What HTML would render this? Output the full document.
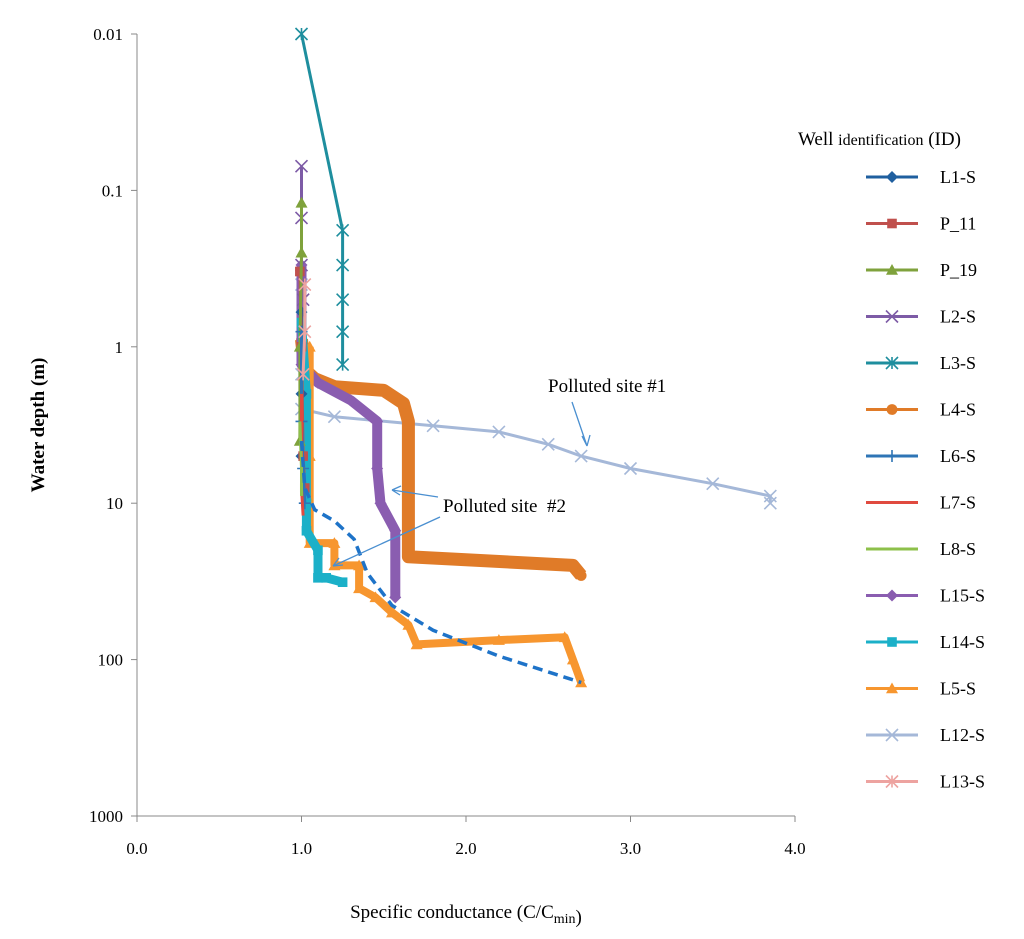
<!DOCTYPE html>
<html><head><meta charset="utf-8"><style>
body{margin:0;background:#fff}
svg{display:block;font-family:"Liberation Serif",serif}
</style></head><body>
<svg id="chart" width="1024" height="939" viewBox="0 0 1024 939">
<g id="plot"></g>
<g id="legend"></g>
<text x="548" y="392" font-size="19">Polluted site #1</text>
<text x="443" y="512" font-size="19" xml:space="preserve">Polluted site  #2</text>
<g stroke="#4a8fd0" stroke-width="1.3" fill="none">
<path d="M572 402 L587 446 M587 446 L582 436 M587 446 L590 435"/>
<path d="M438 497 L392 490 M392 490 L401 486 M392 490 L400 495"/>
<path d="M440 517 L333 566 M333 566 L339 558 M333 566 L343 565"/>
</g>
<text x="466" y="918" font-size="19" text-anchor="middle">Specific conductance (C/C<tspan font-size="14" dy="5">min</tspan>)</text>
<text transform="translate(44,425) rotate(-90)" font-size="19" font-weight="bold" text-anchor="middle">Water depth (m)</text>
<text x="798" y="145" font-size="19">Well <tspan font-size="16">identification</tspan> (ID)</text>
</svg>
<script>
const xTicks=[0,1,2,3,4];
const xTickLabels=["0.0","1.0","2.0","3.0","4.0"];
const yTicks=[0.01,0.1,1,10,100,1000];
const yTickLabels=["0.01","0.1","1","10","100","1000"];
const seriesNames=["L1-S","P_11","P_19","L2-S","L3-S","L4-S","L6-S","L7-S","L8-S","L15-S","L14-S","L5-S","L12-S","L13-S"];
const seriesColors=["#1f5f9f","#c0504d","#7fa23c","#7d5ba6","#1e8e9e","#e07b28","#2e75b6","#e04a3f","#8dc04a","#8a5db0","#1bb0c8","#f7962f","#a5b8d8","#eda3a0"];
const seriesMarkers=["diamond","square","triangle","x","star","circle","plus","none","none","diamond","square","triangle","x","star"];
const sL1=[[1.0,0.6],[1.0,2],[1.0,5]];
const sP11=[[0.99,0.33],[1.0,1],[1.01,5],[1.02,8]];
const sP19=[[1.0,0.12],[1.0,0.25],[0.99,1],[0.99,4]];
const sL2=[[1.0,0.07],[1.0,0.15],[1.0,0.3],[1.01,0.5]];
const sL3=[[1.0,0.01],[1.25,0.18],[1.25,0.3],[1.25,0.5],[1.25,0.8],[1.25,1.3]];
const sL4=[[1.0,0.9],[1.02,1.4],[1.08,1.6],[1.2,1.8],[1.5,1.9],[1.62,2.3],[1.65,3],[1.65,10],[1.65,22],[2.0,23],[2.65,25],[2.7,29]];
const sL6=[[1.0,0.8],[1.0,3],[1.01,6],[1.02,10]];
const sL7=[[1.0,2],[1.0,8],[1.01,12]];
const sL8=[[0.99,3],[1.0,6],[1.0,9]];
const sL15=[[1.0,0.3],[1.0,1.3],[1.1,1.7],[1.3,2.2],[1.46,3],[1.46,6],[1.48,10],[1.57,15],[1.57,40]];
const sL14=[[1.0,0.7],[1.03,2],[1.03,10],[1.03,15],[1.1,20],[1.1,30],[1.15,30],[1.25,32]];
const sL5=[[1.05,1],[1.05,5],[1.05,18],[1.2,18],[1.2,25],[1.35,25],[1.35,35],[1.45,40],[1.55,50],[1.65,60],[1.7,80],[2.2,75],[2.6,72],[2.65,100],[2.7,140]];
const sL12=[[1.0,0.4],[1.0,1.5],[1.0,2.5],[1.2,2.8],[1.8,3.2],[2.2,3.5],[2.5,4.2],[2.7,5],[3.0,6],[3.5,7.5],[3.85,9],[3.85,10]];
const sL13=[[1.02,0.4],[1.02,0.8],[1.01,1.5]];
const trend=[[1.0,4],[1.02,8],[1.08,11],[1.2,13],[1.32,17],[1.4,28],[1.55,45],[1.8,65],[2.2,95],[2.7,140]];
const seriesData=[sL1,sP11,sP19,sL2,sL3,sL4,sL6,sL7,sL8,sL15,sL14,sL5,sL12,sL13];
const widths=[3,3,3,3,3,13,3,3,3,10,9,8,3,3];

const NS="http://www.w3.org/2000/svg";
const X0=137,X1=795,Y0=34,Y1=816;
function xs(v){return X0+(v-0)/(4-0)*(X1-X0);}
function ys(d){return Y0+(Math.log10(d)+2)/5*(Y1-Y0);}
function el(t,a,p){const e=document.createElementNS(NS,t);for(const k in a)e.setAttribute(k,a[k]);p.appendChild(e);return e;}
const plot=document.getElementById('plot');
const lg=document.getElementById('legend');

const ax=el('path',{d:`M${X0} ${Y0} V${Y1} H${X1}`,stroke:'#888',fill:'none','stroke-width':1},plot);


yTicks.forEach((t,i)=>{
  const tk=el('line',{x1:X0-6,x2:X0,y1:ys(t),y2:ys(t),stroke:'#888'},plot);
  
  
  const tx=el('text',{x:X0-14,y:ys(t)+6,'font-size':17,'text-anchor':'end'},plot);
  tx.textContent=yTickLabels[i];
  
  
});
xTicks.forEach((t,i)=>{
  const tk=el('line',{x1:xs(t),x2:xs(t),y1:Y1,y2:Y1+6,stroke:'#888'},plot);
  
  
  const tx=el('text',{x:xs(t),y:Y1+38,'font-size':17,'text-anchor':'middle'},plot);
  tx.textContent=xTickLabels[i];
  
  
});

function marker(g,type,x,y,c,s){
  let e;
  if(type==='diamond')e=el('path',{d:`M${x} ${y-s}L${x+s} ${y}L${x} ${y+s}L${x-s} ${y}Z`,fill:c},g);
  else if(type==='square')e=el('rect',{x:x-s*0.8,y:y-s*0.8,width:s*1.6,height:s*1.6,fill:c},g);
  else if(type==='triangle')e=el('path',{d:`M${x} ${y-s}L${x+s} ${y+s*0.8}L${x-s} ${y+s*0.8}Z`,fill:c},g);
  else if(type==='circle')e=el('circle',{cx:x,cy:y,r:s*0.9,fill:c},g);
  else if(type==='x')e=el('path',{d:`M${x-s} ${y-s}L${x+s} ${y+s}M${x-s} ${y+s}L${x+s} ${y-s}`,stroke:c,'stroke-width':1.6},g);
  else if(type==='plus')e=el('path',{d:`M${x-s} ${y}H${x+s}M${x} ${y-s}V${y+s}`,stroke:c,'stroke-width':1.6},g);
  else if(type==='star')e=el('path',{d:`M${x-s} ${y-s}L${x+s} ${y+s}M${x-s} ${y+s}L${x+s} ${y-s}M${x} ${y-s}V${y+s}`,stroke:c,'stroke-width':1.6},g);
  return e;
}
const drawOrder=[4,12,5,9,3,11,10,0,1,2,6,7,8,13];
drawOrder.forEach(i=>{
  const g=el('g',{},plot);
  
  
  const d=seriesData[i].map((p,j)=>(j?'L':'M')+xs(p[0]).toFixed(1)+' '+ys(p[1]).toFixed(1)).join('');
  const ln=el('path',{d:d,stroke:seriesColors[i],'stroke-width':widths[i],fill:'none','stroke-linejoin':'round'},g);
  
  
  if(seriesMarkers[i]!=='none')seriesData[i].forEach(p=>{
    const m=marker(g,seriesMarkers[i],xs(p[0]),ys(p[1]),seriesColors[i],6);
    
    
  });
});
const td=trend.map((p,j)=>(j?'L':'M')+xs(p[0]).toFixed(1)+' '+ys(p[1]).toFixed(1)).join('');
const tl=el('path',{d:td,stroke:'#1e73c8','stroke-width':3.5,fill:'none','stroke-dasharray':'10 6'},plot);



seriesNames.forEach((n,i)=>{
  const y=177+i*46.5;
  const g=el('g',{},lg);
  
  
  el('line',{x1:866,x2:918,y1:y,y2:y,stroke:seriesColors[i],'stroke-width':3},g);
  if(seriesMarkers[i]!=='none')marker(g,seriesMarkers[i],892,y,seriesColors[i],6);
  const t=el('text',{x:940,y:y+6,'font-size':18},g);
  t.textContent=n;
});
</script>
</body></html>
